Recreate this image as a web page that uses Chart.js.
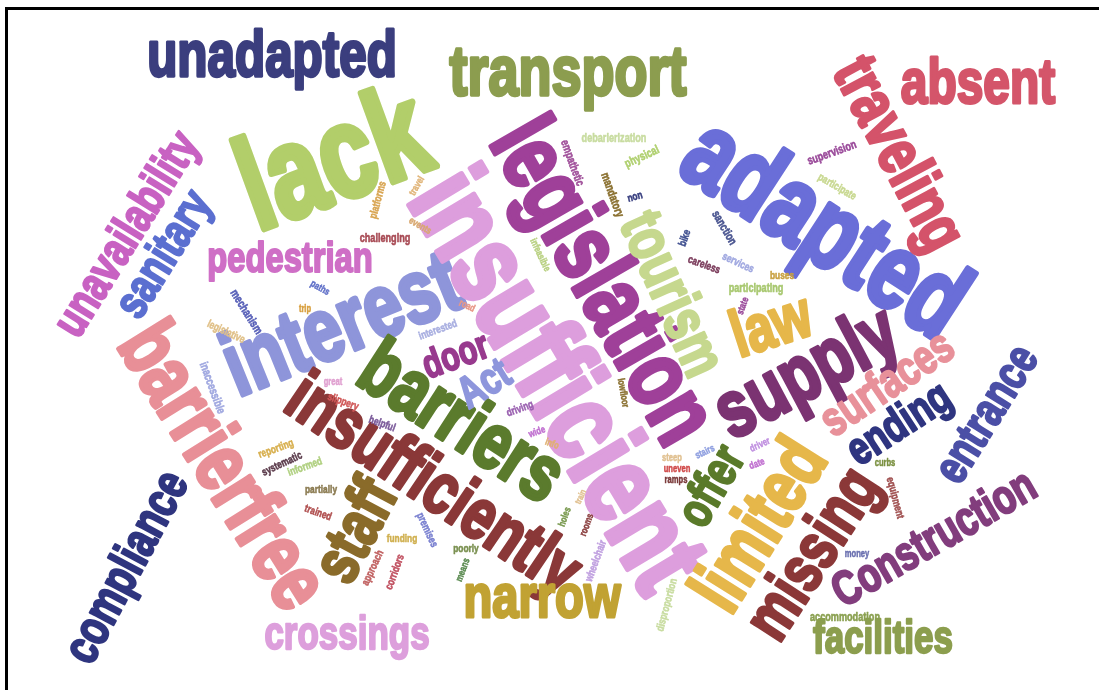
<!DOCTYPE html>
<html>
<head>
<meta charset="utf-8">
<script src="https://cdn.jsdelivr.net/npm/chart.js@4.4.0/dist/chart.umd.min.js"></script>
<style>
  html, body { margin: 0; padding: 0; background: #fff; }
  #wrap { position: relative; width: 1099px; height: 690px; overflow: hidden; }
  #frame { position: absolute; left: 5px; top: 7px; right: -10px; bottom: -10px;
           border-top: 3px solid #000; border-left: 3px solid #000; pointer-events: none; }
</style>
</head>
<body>
<div id="wrap">
  <canvas id="cloud" width="1099" height="690"></canvas>
  <div id="frame"></div>
</div>
<script>
// words and their weights (font size = weight * 5)
const words = ['unadapted', 'transport', 'absent', 'lack', 'unavailability', 'sanitary', 'pedestrian', 'interest',
    'barrierfree', 'compliance', 'crossings', 'staff', 'insufficiently', 'barriers', 'insufficient', 'legislation',
    'tourism', 'adapted', 'traveling', 'law', 'supply', 'surfaces', 'ending', 'entrance', 'Construction', 'facilities',
    'missing', 'limited', 'offer', 'narrow', 'door', 'Act',
    'challenging', 'platforms', 'travel', 'events', 'mechanism', 'paths', 'trip', 'legislative', 'interested', 'road',
    'great', 'slippery', 'helpful', 'inaccessible', 'supervision', 'participate', 'debarierization', 'physical',
    'empathetic', 'mandatory', 'non', 'sanction', 'bike', 'careless', 'services', 'buses', 'participating', 'state',
    'curbs', 'equipment', 'money', 'accommodation', 'wheelchair', 'disproportion', 'rooms', 'holes', 'train',
    'lowfloor', 'steep', 'uneven', 'ramps', 'stairs', 'driver', 'date', 'driving', 'wide', 'info', 'reporting',
    'systematic', 'informed', 'partially', 'trained', 'funding', 'premises', 'approach', 'corridors', 'poorly',
    'means', 'infeasible'];
const weights = [13, 14.2, 12.6, 26, 9.6, 9.6, 8.6, 18, 16.8, 10, 9.2, 13.2, 14.4, 16, 23, 19,
    12.4, 21.6, 13.2, 13.2, 16, 9.6, 9.2, 9.6, 9.6, 9.2, 13.2, 15.2, 10, 12.4, 8, 8.8,
    2.4, 2.2, 2, 2, 2.4, 2, 2, 2.2, 2.2, 2,
    2, 2.2, 2.2, 2.4, 2.4, 2.2, 2.4, 2.4,
    2.4, 2.4, 2.2, 2.4, 2.2, 2.2, 2.2, 2.2, 2.4, 2,
    2, 2.2, 2, 2.4, 2.2, 2.2, 2, 2, 1.8,
    2, 2, 2, 2, 2, 2, 2, 2.2, 2, 2, 2.2,
    2.2, 2.2, 2.2, 2.2, 2.2, 2.2, 2.2, 2.2, 2.2,
    2, 2];

// layout of the cloud, in cloud units (x: 0-110, y: 0-69)
const cloudX = [27.2, 56.8, 97.8, 33.5, 12.8, 16.5, 29.0, 34.3, 22.0, 12.8, 34.7, 35.8, 43.2, 46.0, 55.3, 60.0,
    67.0, 82.3, 89.7, 77.2, 80.8, 88.8, 90.0, 98.8, 93.5, 88.3, 81.5, 76.2, 71.3, 54.2, 45.6, 48.5,
    38.5, 37.8, 41.7, 42.0, 24.6, 32.0, 30.5, 22.6, 43.8, 46.7,
    33.3, 34.3, 38.2, 21.2, 83.2, 83.7, 61.4, 64.2,
    57.2, 61.2, 63.5, 72.4, 68.5, 70.4, 73.8, 78.2, 75.6, 74.3,
    88.5, 89.5, 85.7, 84.5, 59.6, 66.7, 58.7, 56.5, 58.1,
    62.3, 67.2, 67.7, 67.6, 70.5, 76.0, 75.7, 52.0, 53.7, 55.2, 27.6,
    28.2, 30.5, 32.1, 31.8, 40.2, 42.7, 37.3, 39.5, 46.6,
    46.3, 54.0];
const cloudY = [5.8, 7.5, 8.6, 16.5, 23.5, 25.5, 26.0, 32.8, 46.8, 56.8, 63.6, 53.2, 48.7, 42.5, 38.3, 28.3,
    29.5, 23.2, 15.5, 32.8, 37.5, 38.5, 42.5, 41.5, 54.0, 64.0, 55.5, 52.7, 48.7, 60.0, 35.7, 38.5,
    23.9, 20.0, 18.6, 22.6, 31.2, 28.8, 30.9, 33.2, 33.0, 30.6,
    38.2, 40.2, 42.4, 38.8, 15.3, 18.7, 13.9, 15.7,
    16.3, 19.5, 19.7, 22.8, 23.8, 26.5, 26.3, 27.6, 28.9, 30.6,
    46.3, 49.8, 55.4, 61.8, 56.1, 60.5, 52.5, 51.7, 49.7,
    39.3, 45.8, 46.9, 48.0, 45.2, 44.5, 46.4, 40.9, 43.2, 44.4, 44.9,
    46.4, 46.7, 49.0, 51.3, 53.9, 53.0, 56.8, 57.2, 54.9,
    57.0, 25.5];

// style per word: rotation in degrees (clockwise) and colour
const rotations = [0, 0, 0, -20, -58, -58, 0, -22, 58, -62, 0, -62, 34, 33, 59, 60,
    66, 33, 62, -18, -28, -34, -33, -58, -30, 0, -57, -58, -60, 0, -20, -32,
    0, -75, -60, 30, 58, 30, 0, 25, -20, 25,
    0, 20, 20, 70, -20, 30, 0, -25,
    70, 70, -15, 60, -70, 20, 25, 0, 0, -70,
    0, 75, 0, 0, -70, -75, -70, -70, -65,
    80, 0, 0, 0, -25, -25, -20, -20, -20, 20, -20,
    -25, -20, 0, 20, 0, 65, -65, -70, 0,
    -70, 65];
const colors = ['#3b3e7e', '#8c9d4f', '#d4556a', '#b2ce6a', '#c862c2', '#5b6fd0', '#cf6fc6', '#8e95da',
    '#e88f97', '#2f357f', '#dd9fdc', '#8a6b2a', '#8a3838', '#5b7b2d', '#dd9edd', '#9f4099',
    '#c6d88e', '#6a6ed8', '#d4536a', '#e6b74a', '#7b3372', '#e8919a', '#2f3580', '#4b4fa6', '#823d7d', '#8c9e4e',
    '#8b3838', '#e6b74a', '#5a7a2a', '#c1a233', '#983a8e', '#8e96dc',
    '#a84b55', '#d8a450', '#e0b478', '#d8a870', '#5860b8', '#6070c8', '#d8a040', '#e0c088', '#a8aee0', '#e89888',
    '#e0a0d0', '#d05858', '#7b5a9a', '#a0a8e0', '#9a4a9a', '#c8d890', '#c8dca0', '#b0d070',
    '#a0509a', '#8a7030', '#3a4080', '#4a5590', '#405090', '#7a3a5a', '#a0a8e0', '#c8a040', '#a8c870', '#9a4a9a',
    '#7a9040', '#a05050', '#6a70b0', '#8aa050', '#c0a0e0', '#c8dca0', '#8b4040', '#7a9a50', '#e0c090',
    '#8a7030', '#e0c090', '#d04a4a', '#7a3a3a', '#90a0e0', '#c090e0', '#c070d0', '#9a60b0', '#c070d0', '#e0b070', '#d8b050',
    '#5a3a4a', '#b0d080', '#8a7a50', '#b05050', '#d0b050', '#7a80d0', '#c06060', '#c05060', '#7a9050',
    '#5a8a50', '#b8d080'];

const PX_PER_WEIGHT = 5;
const SQUEEZE = 0.76;
const FONT = '"Liberation Sans", Arial, sans-serif';

// draws each word at its point, rotated and condensed
const wordPlugin = {
    id: 'wordPlugin',
    afterDatasetsDraw(chart) {
        const ctx = chart.ctx;
        const meta = chart.getDatasetMeta(0);
        meta.data.forEach(function (pt, i) {
            const size = weights[i] * PX_PER_WEIGHT;
            ctx.save();
            ctx.translate(pt.x, pt.y);
            ctx.rotate(rotations[i] * Math.PI / 180);
            ctx.scale(SQUEEZE, 1);
            ctx.font = 'bold ' + size + 'px ' + FONT;
            ctx.textAlign = 'center';
            ctx.textBaseline = 'middle';
            ctx.fillStyle = colors[i];
            ctx.strokeStyle = colors[i];
            ctx.lineJoin = 'round';
            ctx.lineWidth = Math.max(0.3, size * 0.05);
            ctx.fillText(words[i], 0, 0);
            ctx.strokeText(words[i], 0, 0);
            ctx.restore();
        });
    }
};

new Chart(document.getElementById('cloud'), {
    type: 'scatter',
    data: {
        datasets: [{
            label: 'words',
            data: words.map(function (w, i) { return { x: cloudX[i], y: cloudY[i] }; }),
            pointRadius: 0,
            pointHoverRadius: 0
        }]
    },
    options: {
        responsive: false,
        animation: false,
        devicePixelRatio: 1,
        layout: { padding: 0 },
        scales: {
            x: { type: 'linear', min: 0, max: 109.9, display: false },
            y: { type: 'linear', min: 0, max: 69, reverse: true, display: false }
        },
        plugins: {
            legend: { display: false },
            tooltip: { enabled: false }
        }
    },
    plugins: [wordPlugin]
});
</script>
</body>
</html>
